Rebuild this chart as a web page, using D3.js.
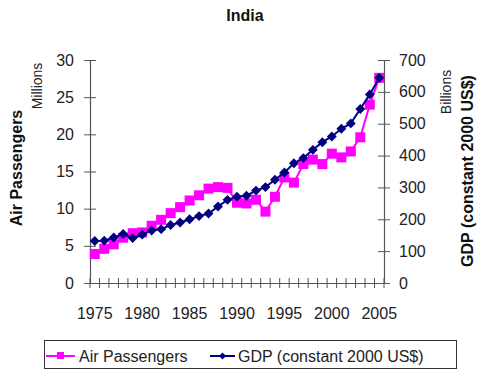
<!DOCTYPE html>
<html><head><meta charset="utf-8">
<script src="https://cdn.jsdelivr.net/npm/d3@7"></script>
<style>body{margin:0;background:#fff}svg{display:block;font-family:"Liberation Sans",Arial,sans-serif}</style>
</head><body><svg id="c" width="488" height="372"></svg>
<script>
const years = d3.range(1975, 2006);
const xTickLabels = [1975,1980,1985,1990,1995,2000,2005];
const airPassengers = [3.9,4.6,5.2,6.1,6.7,6.8,7.7,8.5,9.4,10.2,11.1,11.8,12.7,12.9,12.8,10.8,10.7,11.2,9.6,11.6,14.2,13.5,16.0,16.6,16.0,17.4,16.9,17.7,19.6,24.0,27.6];
const gdp = [132,133,143,154,141,152,165,169,182,190,200,210,218,240,261,271,274,290,301,324,347,376,392,418,442,460,484,501,546,592,644];
const leftTicks = [0,5,10,15,20,25,30];
const rightTicks = [0,100,200,300,400,500,600,700];

const svg = d3.select("#c");
const L=90, R=384, T=60, B=283;
const x = d3.scaleBand().domain(years).range([L,R]).padding(0);
const yL = d3.scaleLinear().domain([0,30]).range([B,T]);
const yR = d3.scaleLinear().domain([0,700]).range([B,T]);
const axisColor="#555", txt="#222";

// title
svg.append("text").attr("x",245).attr("y",21).attr("text-anchor","middle")
  .attr("font-weight","bold").attr("font-size",16).attr("fill","#111").text("India");

// left axis
const gl = svg.append("g").attr("transform",`translate(${L},0)`)
  .call(d3.axisLeft(yL).tickValues(leftTicks).tickSize(6).tickPadding(10).tickSizeOuter(0));
gl.selectAll(".tick line").attr("x2",-6).attr("x1",6);
// right axis
const gr = svg.append("g").attr("transform",`translate(${R},0)`)
  .call(d3.axisRight(yR).tickValues(rightTicks).tickSize(6).tickPadding(9).tickSizeOuter(0));
gr.selectAll(".tick line").attr("x1",-6).attr("x2",6);
// x axis
const gx = svg.append("g").attr("transform",`translate(0,${B})`)
  .call(d3.axisBottom(x).tickValues([]).tickSizeOuter(0));
const bounds = years.map(y=>x(y)).concat([R]);
gx.selectAll(".bt").data(bounds).enter().append("line").attr("class","bt")
  .attr("x1",d=>d).attr("x2",d=>d).attr("y1",-5).attr("y2",5).attr("stroke",axisColor);
gx.selectAll(".xl").data(xTickLabels).enter().append("text").attr("class","xl")
  .attr("x",d=>x(d)+x.bandwidth()/2).attr("y",36).attr("text-anchor","middle")
  .attr("font-size",16).attr("fill",txt).text(d=>d);
[gl,gr,gx].forEach(g=>{
  g.selectAll(".domain").attr("stroke",axisColor).attr("stroke-width",1.2);
  g.selectAll(".tick line").attr("stroke",axisColor);
  g.selectAll(".tick text").attr("font-size",16).attr("fill",txt).attr("font-family","Liberation Sans, Arial, sans-serif");
});

// axis titles
svg.append("text").attr("transform","translate(22,168) rotate(-90)").attr("text-anchor","middle")
  .attr("font-weight","bold").attr("font-size",16).attr("fill","#111").text("Air Passengers");
svg.append("text").attr("transform","translate(42,86) rotate(-90)").attr("text-anchor","middle")
  .attr("font-size",14).attr("fill",txt).text("Millions");
svg.append("text").attr("transform","translate(451,92) rotate(-90)").attr("text-anchor","middle")
  .attr("font-size",14).attr("fill",txt).text("Billions");
svg.append("text").attr("transform","translate(473,171) rotate(-90)").attr("text-anchor","middle")
  .attr("font-weight","bold").attr("font-size",16).attr("fill","#111").text("GDP (constant 2000 US$)");

const cx = d=>x(d)+x.bandwidth()/2;
const pink="#ff00ff", navy="#000080";
// air passengers
svg.append("path").datum(years.map((y,i)=>[cx(y),yL(airPassengers[i])]))
  .attr("d",d3.line()).attr("fill","none").attr("stroke",pink).attr("stroke-width",2);
svg.selectAll(".sq").data(years).enter().append("rect").attr("class","sq")
  .attr("x",(d,i)=>cx(d)-5).attr("y",(d,i)=>yL(airPassengers[i])-5)
  .attr("width",10).attr("height",10).attr("fill",pink);
// gdp
svg.append("path").datum(years.map((y,i)=>[cx(y),yR(gdp[i])]))
  .attr("d",d3.line()).attr("fill","none").attr("stroke",navy).attr("stroke-width",2);
svg.selectAll(".dm").data(years).enter().append("path").attr("class","dm")
  .attr("transform",(d,i)=>`translate(${cx(d)},${yR(gdp[i])}) rotate(45)`)
  .attr("d",d3.symbol().type(d3.symbolSquare).size(49)).attr("fill",navy);

// legend
const lg = svg.append("g");
lg.append("rect").attr("x",44.5).attr("y",340.5).attr("width",412).attr("height",28)
  .attr("fill","#fff").attr("stroke","#333");
lg.append("line").attr("x1",46).attr("x2",75).attr("y1",356).attr("y2",356).attr("stroke",pink).attr("stroke-width",2);
lg.append("rect").attr("x",57).attr("y",352).attr("width",7).attr("height",7).attr("fill",pink);
lg.append("text").attr("x",79).attr("y",362).attr("font-size",16).attr("fill",txt).text("Air Passengers");
lg.append("line").attr("x1",210).attr("x2",235).attr("y1",356).attr("y2",356).attr("stroke",navy).attr("stroke-width",2);
lg.append("path").attr("transform","translate(222.5,356) rotate(45)")
  .attr("d",d3.symbol().type(d3.symbolSquare).size(25)).attr("fill",navy);
lg.append("text").attr("x",238).attr("y",362).attr("font-size",16).attr("fill",txt).text("GDP (constant 2000 US$)");
</script></body></html>
